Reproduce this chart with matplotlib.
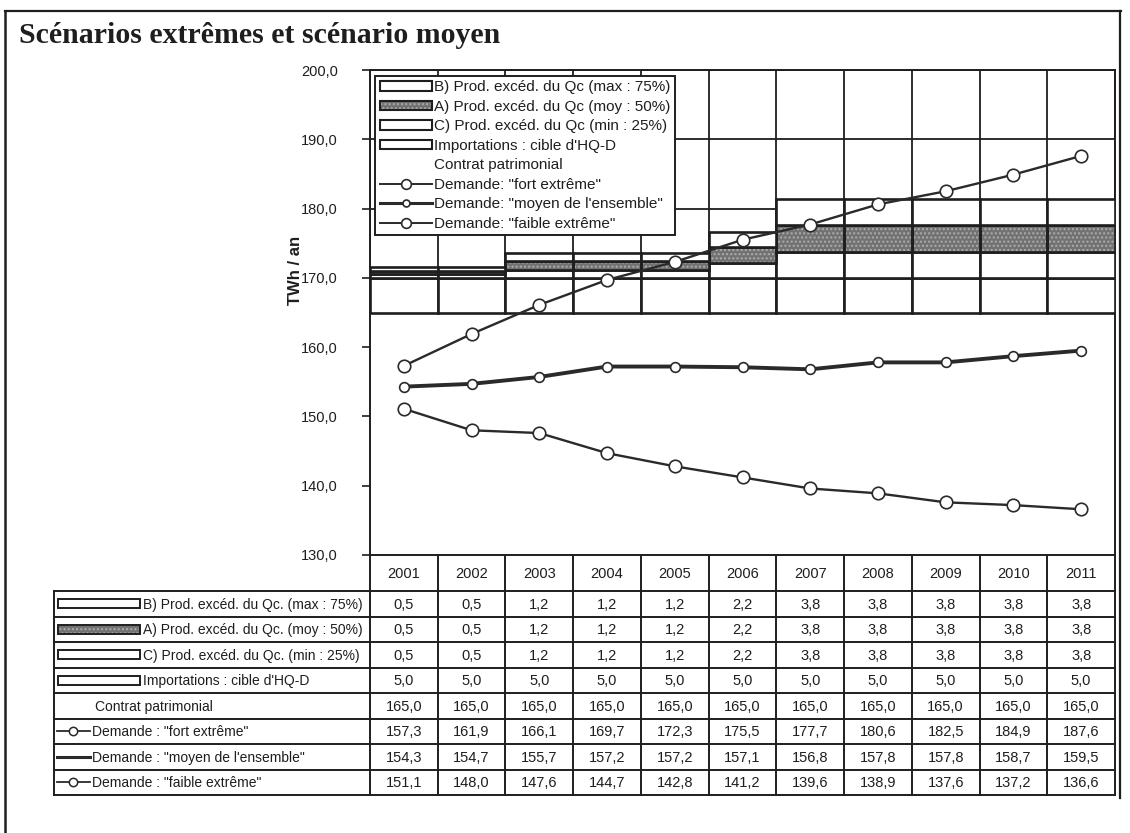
import numpy as np
import matplotlib
matplotlib.use('Agg')
import matplotlib.pyplot as plt
from matplotlib.patches import Patch, Rectangle
from matplotlib.lines import Line2D
from matplotlib.legend_handler import HandlerTuple
from matplotlib.ticker import FuncFormatter, MultipleLocator

plt.rcParams['font.family'] = ['Liberation Sans', 'DejaVu Sans']
plt.rcParams['hatch.linewidth'] = 1.0

# ── data (TWh / an) ──
years = ['2001', '2002', '2003', '2004', '2005', '2006',
         '2007', '2008', '2009', '2010', '2011']
prod_b = [0.5, 0.5, 1.2, 1.2, 1.2, 2.2, 3.8, 3.8, 3.8, 3.8, 3.8]
prod_a = [0.5, 0.5, 1.2, 1.2, 1.2, 2.2, 3.8, 3.8, 3.8, 3.8, 3.8]
prod_c = [0.5, 0.5, 1.2, 1.2, 1.2, 2.2, 3.8, 3.8, 3.8, 3.8, 3.8]
importations = [5.0, 5.0, 5.0, 5.0, 5.0, 5.0, 5.0, 5.0, 5.0, 5.0, 5.0]
contrat = [165.0, 165.0, 165.0, 165.0, 165.0, 165.0,
           165.0, 165.0, 165.0, 165.0, 165.0]
dem_fort = [157.3, 161.9, 166.1, 169.7, 172.3, 175.5, 177.7, 180.6, 182.5, 184.9, 187.6]
dem_moyen = [154.3, 154.7, 155.7, 157.2, 157.2, 157.1, 156.8, 157.8, 157.8, 158.7, 159.5]
dem_faible = [151.1, 148.0, 147.6, 144.7, 142.8, 141.2, 139.6, 138.9, 137.6, 137.2, 136.6]

legend_labels = [
    'B) Prod. excéd. du Qc (max : 75%)',
    'A) Prod. excéd. du Qc (moy : 50%)',
    'C) Prod. excéd. du Qc (min : 25%)',
    "Importations : cible d'HQ-D",
    'Contrat patrimonial',
    'Demande: "fort extrême"',
    'Demande: "moyen de l\'ensemble"',
    'Demande: "faible extrême"',
]
table_labels = [
    'B) Prod. excéd. du Qc. (max : 75%)',
    'A) Prod. excéd. du Qc. (moy : 50%)',
    'C) Prod. excéd. du Qc. (min : 25%)',
    "Importations : cible d'HQ-D",
    'Contrat patrimonial',
    'Demande : "fort extrême"',
    'Demande : "moyen de l\'ensemble"',
    'Demande : "faible extrême"',
]
table_rows = [prod_b, prod_a, prod_c, importations, contrat,
              dem_fort, dem_moyen, dem_faible]

# ── layout in pixels ──
W, H = 1130, 833
PLOT_L, PLOT_R, PLOT_T, PLOT_B = 370, 1115, 70, 555
TAB_L, TAB_B = 54, 795
HEAD_H = 36
ROW_H = (TAB_B - PLOT_B - HEAD_H) / len(table_rows)

INK = '#1e1e1e'
DARK = '#727272'
SPECK = '#adadad'
NUM_FONT = ['Liberation Sans Narrow', 'Liberation Sans', 'DejaVu Sans']


def fr(v):
    return f'{v:.1f}'.replace('.', ',')


fig = plt.figure(figsize=(W / 100, H / 100), dpi=100)
frame = fig.add_axes([0, 0, 1, 1], zorder=0)
frame.set_xlim(0, W)
frame.set_ylim(H, 0)
frame.axis('off')

# outer box + title
frame.plot([5, 1121], [11, 11], color=INK, lw=1.6)
frame.plot([5, 5], [11, H], color=INK, lw=1.8)
frame.plot([1120, 1120], [11, 798], color=INK, lw=1.6)
frame.text(19, 43, 'Scénarios extrêmes et scénario moyen', family='Liberation Serif',
           fontsize=21.5, fontweight='bold', color=INK, va='baseline')
frame.text(295, 270, 'TWh / an', rotation=90, fontsize=12, fontweight='bold',
           color=INK, ha='center', va='center')

ax = fig.add_axes([PLOT_L / W, 1 - PLOT_B / H,
                   (PLOT_R - PLOT_L) / W, (PLOT_B - PLOT_T) / H], zorder=1)
x = np.arange(len(years))
b0 = np.array(contrat)
b1 = b0 + np.array(importations)
b2 = b1 + np.array(prod_c)
b3 = b2 + np.array(prod_a)

bar_kw = dict(width=1.0, zorder=3)
ax.bar(x, contrat, color='white', edgecolor='none', width=1.0, zorder=2)
ax.bar(x, importations, bottom=b0, color='white', edgecolor=INK, lw=1.9, **bar_kw)
ax.bar(x, prod_c, bottom=b1, color='white', edgecolor=INK, lw=1.9, **bar_kw)
ax.bar(x, prod_a, bottom=b2, color=DARK, edgecolor=SPECK, hatch='....', lw=0, **bar_kw)
ax.bar(x, prod_a, bottom=b2, color='none', edgecolor=INK, lw=1.9, **bar_kw)
ax.bar(x, prod_b, bottom=b3, color='white', edgecolor=INK, lw=1.9, **bar_kw)

line_kw = dict(color='#2a2a2a', marker='o', mfc='white', mec='#2a2a2a', mew=1.2, zorder=5)
ax.plot(x, dem_fort, lw=1.7, ms=9, **line_kw)
ax.plot(x, dem_moyen, lw=2.8, ms=7, **line_kw)
ax.plot(x, dem_faible, lw=1.7, ms=9, **line_kw)

ax.set_xlim(-0.5, len(years) - 0.5)
ax.set_ylim(130, 200)
ax.yaxis.set_major_locator(MultipleLocator(10))
ax.yaxis.set_major_formatter(FuncFormatter(lambda v, _: fr(v)))
ax.set_xticks([])
ax.set_xticks(np.arange(-0.5, len(years), 1), minor=True)
ax.set_axisbelow(True)
ax.yaxis.grid(True, color=INK, lw=1.3)
ax.xaxis.grid(True, which='minor', color=INK, lw=1.3)
ax.tick_params(axis='x', which='both', length=0)
ax.tick_params(axis='y', length=6, width=1.2, color=INK, labelsize=10.5,
               labelcolor=INK, pad=17)
for s in ax.spines.values():
    s.set_color(INK)
    s.set_linewidth(1.4)

# legend inside the plot
h_a = (Patch(facecolor=DARK, edgecolor=SPECK, hatch='....', lw=0),
       Patch(facecolor='none', edgecolor=INK, lw=1.5))
handles = [
    Patch(facecolor='white', edgecolor=INK, lw=1.5),
    h_a,
    Patch(facecolor='white', edgecolor=INK, lw=1.5),
    Patch(facecolor='white', edgecolor=INK, lw=1.5),
    Patch(facecolor='none', edgecolor='none'),
    Line2D([], [], lw=1.4, ms=7, **line_kw),
    Line2D([], [], lw=2.2, ms=5, **line_kw),
    Line2D([], [], lw=1.4, ms=7, **line_kw),
]
leg = ax.legend(handles, legend_labels, loc='upper left', bbox_to_anchor=(0.007, 0.988),
                fontsize=11, frameon=True, fancybox=False, framealpha=1,
                edgecolor=INK, handlelength=3.4, handleheight=0.55, handletextpad=0.15,
                labelspacing=0.36, borderpad=0.3, borderaxespad=0,
                handler_map={tuple: HandlerTuple(ndivide=1)})
leg.get_frame().set_linewidth(1.4)
leg.set_zorder(6)
for t in leg.get_texts():
    t.set_color(INK)

# data table under the plot
edges = np.linspace(PLOT_L, PLOT_R, len(years) + 1)
tab_top = PLOT_B + HEAD_H
lw_t = 1.4
for k in range(len(table_rows) + 1):
    yy = tab_top + k * ROW_H
    frame.plot([TAB_L, PLOT_R], [yy, yy], color=INK, lw=lw_t)
for e in edges:
    frame.plot([e, e], [PLOT_B, TAB_B], color=INK, lw=lw_t)
frame.plot([TAB_L, TAB_L], [tab_top, TAB_B], color=INK, lw=lw_t)

for j, yr in enumerate(years):
    frame.text((edges[j] + edges[j + 1]) / 2, PLOT_B + HEAD_H / 2 + 1, yr,
               ha='center', va='center', fontsize=10.5, family=NUM_FONT, color=INK)

for i, (lab, vals) in enumerate(zip(table_labels, table_rows)):
    yc = tab_top + (i + 0.5) * ROW_H
    if i < 4:
        if i == 1:
            frame.add_patch(Rectangle((58, yc - 4.5), 82, 9, facecolor=DARK,
                                      edgecolor=SPECK, hatch='....', lw=0))
        frame.add_patch(Rectangle((58, yc - 4.5), 82, 9, facecolor='none' if i == 1 else 'white',
                                  edgecolor=INK, lw=1.4))
        tx = 143
    elif i == 4:
        tx = 95
    else:
        lw_k = 2.2 if i == 6 else 1.3
        frame.plot([57, 90], [yc, yc], color='#2a2a2a', lw=lw_k)
        if i != 6:
            frame.plot([73], [yc], marker='o', ms=6, mfc='white', mec='#2a2a2a', mew=1.1)
        tx = 92
    frame.text(tx, yc + 1, lab, ha='left', va='center', fontsize=10, color=INK)
    for j, v in enumerate(vals):
        frame.text((edges[j] + edges[j + 1]) / 2, yc + 1, fr(v), ha='center', va='center',
                   fontsize=10.5, family=NUM_FONT, color=INK)

fig.savefig('out.png', dpi=100, facecolor='white')
